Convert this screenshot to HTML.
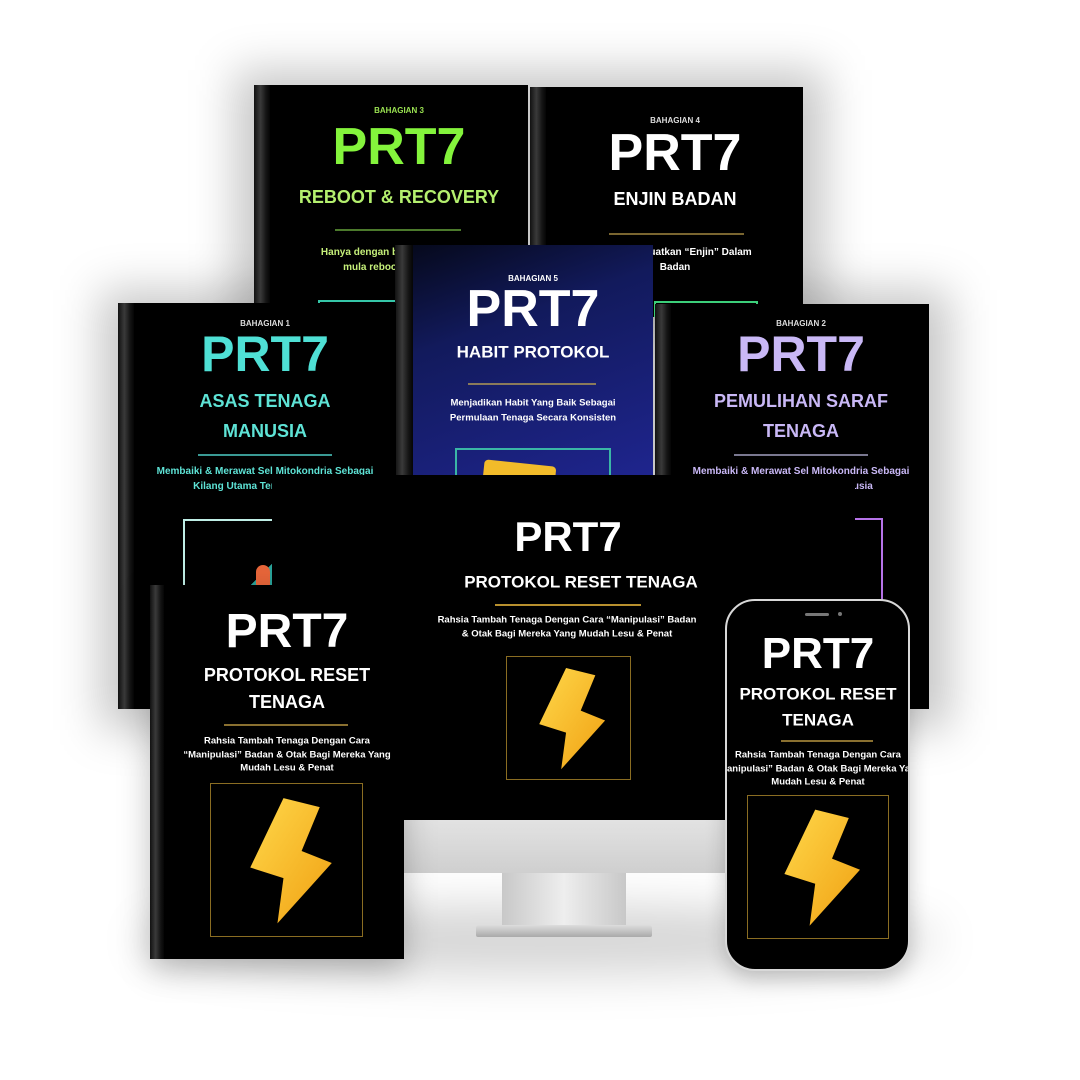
<!DOCTYPE html>
<html><head><meta charset="utf-8"><style>
*{margin:0;padding:0;box-sizing:border-box}
body{width:1080px;height:1080px;background:#fff;position:relative;overflow:hidden;font-family:"Liberation Sans",sans-serif}
.a{position:absolute}
.bk{position:absolute;background:#000;overflow:hidden}
.sp{position:absolute;left:0;top:0;bottom:0;width:16px;background:linear-gradient(90deg,#111,#3a3a3a 40%,#151515 75%,#050505)}
.t{position:absolute;white-space:nowrap;transform:translate(-50%,-50%);font-weight:bold;text-align:center;line-height:1}
.ln{position:absolute;height:2px}
.sh{position:absolute;background:rgba(0,0,0,.22);filter:blur(22px)}
</style></head><body>
<!-- shadows -->
<div class="sh" style="left:235px;top:70px;width:590px;height:260px"></div>
<div class="sh" style="left:100px;top:290px;width:850px;height:440px"></div>
<div class="sh" style="left:140px;top:905px;width:800px;height:70px;border-radius:50%;background:rgba(0,0,0,.16)"></div>

<!-- Book 3 -->
<div class="bk" style="left:254px;top:85px;width:274px;height:230px"><div class="sp"></div>
<div class="t" style="left:145px;top:26px;font-size:8px;color:#9be352">BAHAGIAN 3</div>
<div class="t" style="left:145px;top:62px;font-size:52px;color:#84f43c">PRT7</div>
<div class="t" style="left:145px;top:112px;font-size:18px;color:#b4f06e">REBOOT &amp; RECOVERY</div>
<div class="ln" style="left:81px;top:144px;width:126px;background:#4c7a2c"></div>
<div class="t" style="left:145px;top:168px;font-size:10px;color:#c6f07a">Hanya dengan beberapa langkah</div>
<div class="t" style="left:145px;top:183px;font-size:10px;color:#c6f07a">mula reboot &amp; recovery</div>
<div class="a" style="left:64px;top:215px;width:160px;height:60px;border:2px solid #35c6a8"></div>
</div>
<!-- Book 4 -->
<div class="bk" style="left:530px;top:87px;width:273px;height:230px"><div class="sp"></div>
<div class="t" style="left:145px;top:34px;font-size:8px;color:#ddd">BAHAGIAN 4</div>
<div class="t" style="left:145px;top:66px;font-size:52px;color:#fff">PRT7</div>
<div class="t" style="left:145px;top:112px;font-size:18px;color:#fff">ENJIN BADAN</div>
<div class="ln" style="left:79px;top:146px;width:135px;background:#7a6630"></div>
<div class="t" style="left:145px;top:166px;font-size:10px;color:#fff">Cara Menguatkan “Enjin” Dalam</div>
<div class="t" style="left:145px;top:181px;font-size:10px;color:#fff">Badan</div>
<div class="a" style="left:124px;top:214px;width:104px;height:60px;border:2px solid #3ccf7a"></div>
</div>
<!-- Book 5 -->
<div class="bk" style="left:395px;top:245px;width:258px;height:240px;background:linear-gradient(160deg,#050818 0%,#121a5c 35%,#1f2590 100%)"><div class="sp" style="width:18px"></div>
<div class="t" style="left:138px;top:34px;font-size:8px;color:#fff">BAHAGIAN 5</div>
<div class="t" style="left:138px;top:64px;font-size:52px;color:#fff">PRT7</div>
<div class="t" style="left:138px;top:107px;font-size:17px;color:#fff">HABIT PROTOKOL</div>
<div class="ln" style="left:73px;top:138px;width:128px;background:#8a7a5a"></div>
<div class="t" style="left:138px;top:158px;font-size:9.5px;color:#fff">Menjadikan Habit Yang Baik Sebagai</div>
<div class="t" style="left:138px;top:173px;font-size:9.5px;color:#fff">Permulaan Tenaga Secara Konsisten</div>
<div class="a" style="left:60px;top:203px;width:156px;height:60px;border:2px solid #3ab6a6"></div>
<div class="a" style="left:88px;top:218px;width:72px;height:30px;background:#f2bb2a;border-radius:4px;transform:rotate(6deg)"></div>
</div>
<!-- Book 1 -->
<div class="bk" style="left:118px;top:303px;width:278px;height:406px"><div class="sp"></div>
<div class="t" style="left:147px;top:21px;font-size:8px;color:#ddd">BAHAGIAN 1</div>
<div class="t" style="left:147px;top:51px;font-size:50px;color:#4fe0d5">PRT7</div>
<div class="t" style="left:147px;top:98px;font-size:18px;color:#5ee3d6">ASAS TENAGA</div>
<div class="t" style="left:147px;top:128px;font-size:18px;color:#5ee3d6">MANUSIA</div>
<div class="ln" style="left:80px;top:151px;width:134px;background:#3a9a94"></div>
<div class="t" style="left:147px;top:169px;font-size:10px;color:#5ee3d6">Membaiki &amp; Merawat Sel Mitokondria Sebagai</div>
<div class="t" style="left:147px;top:184px;font-size:10px;color:#5ee3d6">Kilang Utama Tenaga Manusia</div>
<div class="a" style="left:65px;top:216px;width:150px;height:170px;border:2px solid #bfeee6"></div>
<div class="a" style="left:110px;top:245px;width:60px;height:60px;background:linear-gradient(135deg,transparent 50%,#2aa39a 50%)"></div>
<div class="a" style="left:138px;top:262px;width:14px;height:26px;background:#e8663a;border-radius:7px"></div>
</div>
<!-- Book 2 -->
<div class="bk" style="left:655px;top:304px;width:274px;height:405px"><div class="sp"></div>
<div class="t" style="left:146px;top:20px;font-size:8px;color:#ddd">BAHAGIAN 2</div>
<div class="t" style="left:146px;top:50px;font-size:50px;color:#c9b8f6">PRT7</div>
<div class="t" style="left:146px;top:97px;font-size:18px;color:#c9b8f6">PEMULIHAN SARAF</div>
<div class="t" style="left:146px;top:127px;font-size:18px;color:#c9b8f6">TENAGA</div>
<div class="ln" style="left:79px;top:150px;width:134px;background:#7a7890"></div>
<div class="t" style="left:146px;top:168px;font-size:10px;color:#c9b8f6">Membaiki &amp; Merawat Sel Mitokondria Sebagai</div>
<div class="t" style="left:146px;top:183px;font-size:10px;color:#c9b8f6">Kilang Utama Tenaga Manusia</div>
<div class="a" style="left:60px;top:214px;width:168px;height:170px;border:2px solid #b673e8"></div>
</div>

<!-- Monitor -->
<div class="a" style="left:402px;top:815px;width:325px;height:58px;background:linear-gradient(#e4e4e4,#cfcfcf)"></div>
<div class="a" style="left:502px;top:873px;width:124px;height:55px;background:linear-gradient(90deg,#c8c8c8,#eee 50%,#c8c8c8)"></div>
<div class="a" style="left:476px;top:925px;width:176px;height:12px;background:linear-gradient(#ddd,#aaa);border-radius:3px 3px 2px 2px"></div>
<div class="bk" style="left:272px;top:475px;width:583px;height:345px">
<div class="t" style="left:296px;top:62px;font-size:42px;color:#fff">PRT7</div>
<div class="t" style="left:309px;top:107px;font-size:17px;color:#fff">PROTOKOL RESET TENAGA</div>
<div class="ln" style="left:223px;top:129px;width:146px;background:#b8902e"></div>
<div class="t" style="left:295px;top:145px;font-size:9.5px;color:#fff">Rahsia Tambah Tenaga Dengan Cara “Manipulasi” Badan</div>
<div class="t" style="left:295px;top:159px;font-size:9.5px;color:#fff">&amp; Otak Bagi Mereka Yang Mudah Lesu &amp; Penat</div>
<div class="a" style="left:234px;top:181px;width:125px;height:124px;border:1px solid #8a6d22">
<svg width="123" height="122" viewBox="0 0 100 100" style="position:absolute;left:0;top:0"><defs><linearGradient id="g1" x1="0" y1="0" x2="1" y2="1"><stop offset="0" stop-color="#ffd84a"/><stop offset="1" stop-color="#f0a012"/></linearGradient></defs><polygon points="48,9 72,15 60,44 80,52 44,92 48,62 26,55" fill="url(#g1)"/></svg></div>
</div>

<!-- Front book -->
<div class="bk" style="left:150px;top:585px;width:254px;height:374px;box-shadow:0 10px 30px rgba(0,0,0,.25)"><div class="sp" style="width:14px"></div>
<div class="t" style="left:137px;top:47px;font-size:48px;color:#fff">PRT7</div>
<div class="t" style="left:137px;top:90px;font-size:18px;color:#fff">PROTOKOL RESET</div>
<div class="t" style="left:137px;top:117px;font-size:18px;color:#fff">TENAGA</div>
<div class="ln" style="left:74px;top:139px;width:124px;background:#8a7030"></div>
<div class="t" style="left:137px;top:156px;font-size:9.5px;color:#fff">Rahsia Tambah Tenaga Dengan Cara</div>
<div class="t" style="left:137px;top:170px;font-size:9.5px;color:#fff">“Manipulasi” Badan &amp; Otak Bagi Mereka Yang</div>
<div class="t" style="left:137px;top:183px;font-size:9.5px;color:#fff">Mudah Lesu &amp; Penat</div>
<div class="a" style="left:60px;top:198px;width:153px;height:154px;border:1px solid #8a6d22">
<svg width="151" height="152" viewBox="0 0 100 100" style="position:absolute;left:0;top:0"><polygon points="48,9 72,15 60,44 80,52 44,92 48,62 26,55" fill="url(#g1)"/></svg></div>
</div>

<!-- Phone -->
<div class="a" style="left:725px;top:599px;width:185px;height:372px;border-radius:30px;background:#000;border:2px solid #d8d8d8;overflow:hidden;box-shadow:0 8px 20px rgba(0,0,0,.2)">
<div class="a" style="left:78px;top:12px;width:24px;height:3px;background:#777;border-radius:2px"></div>
<div class="a" style="left:111px;top:11px;width:4px;height:4px;background:#777;border-radius:50%"></div>
<div class="t" style="left:91px;top:53px;font-size:44px;color:#fff">PRT7</div>
<div class="t" style="left:91px;top:93px;font-size:17px;color:#fff">PROTOKOL RESET</div>
<div class="t" style="left:91px;top:119px;font-size:17px;color:#fff">TENAGA</div>
<div class="ln" style="left:54px;top:139px;width:92px;background:#8a7030"></div>
<div class="t" style="left:91px;top:154px;font-size:9.5px;color:#fff">Rahsia Tambah Tenaga Dengan Cara</div>
<div class="t" style="left:91px;top:168px;font-size:9.5px;color:#fff">“Manipulasi” Badan &amp; Otak Bagi Mereka Yang</div>
<div class="t" style="left:91px;top:181px;font-size:9.5px;color:#fff">Mudah Lesu &amp; Penat</div>
<div class="a" style="left:20px;top:194px;width:142px;height:144px;border:1px solid #8a6d22">
<svg width="140" height="142" viewBox="0 0 100 100" style="position:absolute;left:0;top:0"><polygon points="48,9 72,15 60,44 80,52 44,92 48,62 26,55" fill="url(#g1)"/></svg></div>
</div>
</body></html>
